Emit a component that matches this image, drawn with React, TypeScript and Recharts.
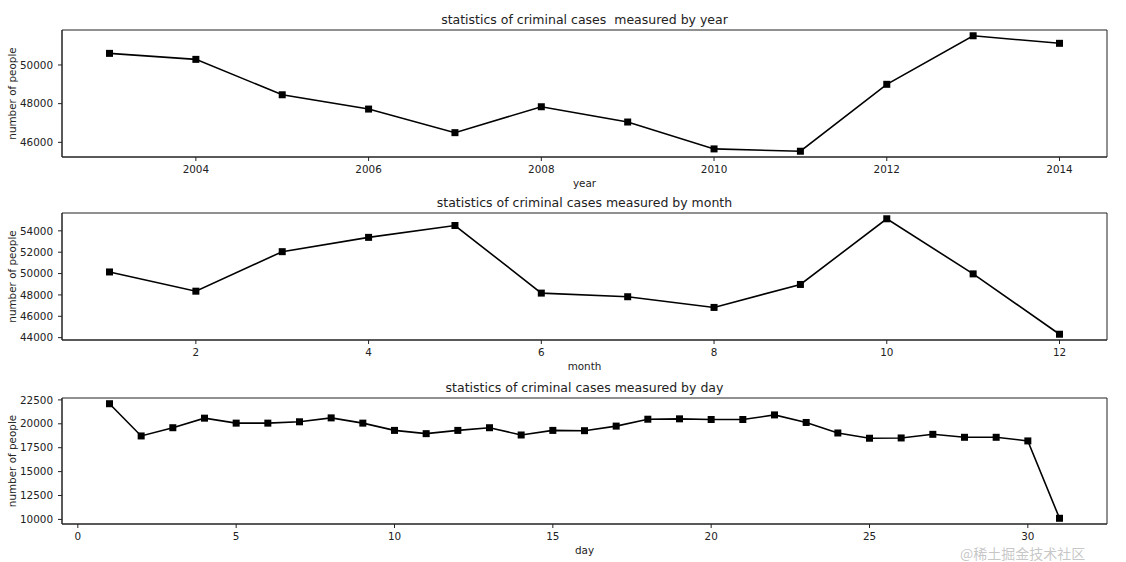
import React from 'react';
import { LineChart, Line, XAxis, YAxis, Label, ReferenceArea } from 'recharts';

// yearly totals
const years = [2003, 2004, 2005, 2006, 2007, 2008, 2009, 2010, 2011, 2012, 2013, 2014];
const yearCases = [50600, 50290, 48460, 47720, 46500, 47840, 47050, 45660, 45540, 49000, 51510, 51120];
const yearTicks = [2004, 2006, 2008, 2010, 2012, 2014];
const yearValueTicks = [46000, 48000, 50000];

// monthly totals
const months = [1, 2, 3, 4, 5, 6, 7, 8, 9, 10, 11, 12];
const monthCases = [50150, 48350, 52050, 53390, 54500, 48170, 47830, 46830, 48980, 55130, 49970, 44320];
const monthTicks = [2, 4, 6, 8, 10, 12];
const monthValueTicks = [44000, 46000, 48000, 50000, 52000, 54000];

// day-of-month totals
const days = [1, 2, 3, 4, 5, 6, 7, 8, 9, 10, 11, 12, 13, 14, 15, 16, 17, 18, 19, 20, 21, 22, 23, 24, 25, 26, 27, 28, 29, 30, 31];
const dayCases = [
  22100, 18730, 19590, 20590, 20070, 20070, 20210, 20620, 20070, 19310, 18970, 19310, 19590, 18830, 19310, 19280,
  19760, 20480, 20520, 20450, 20450, 20930, 20140, 19040, 18490, 18520, 18900, 18590, 18590, 18210, 10120,
];
const dayTicks = [0, 5, 10, 15, 20, 25, 30];
const dayValueTicks = [10000, 12500, 15000, 17500, 20000, 22500];

const TEXT = '#222';
const AXIS = '#222';
const FONT = '"DejaVu Sans", sans-serif';

// matplotlib-style 5% autoscale margin
function padded(values: number[]): [number, number] {
  const lo = Math.min(...values);
  const hi = Math.max(...values);
  const pad = (hi - lo) * 0.05;
  return [lo - pad, hi + pad];
}

interface PanelProps {
  title: string;
  xLabel: string;
  xs: number[];
  ys: number[];
  xTicks: number[];
  yTicks: number[];
  top: number;
  height: number;
  boxTop: number;
  boxBottom: number;
}

function Panel({ title, xLabel, xs, ys, xTicks, yTicks, top, height, boxTop, boxBottom }: PanelProps) {
  const data = xs.map((x, i) => ({ x, value: ys[i] }));
  const tickStyle = { fontSize: 10.4, fill: TEXT, fontFamily: FONT };
  const xDomain = padded(xs);
  const yDomain = padded(ys);
  const plotTop = boxTop - top;

  return (
    <div style={{ position: 'absolute', left: 0, top, width: 1126, height }}>
      <LineChart
        width={1126}
        height={height}
        data={data}
        margin={{ top: plotTop, right: 19, bottom: 0, left: 0 }}
      >
        <XAxis
          dataKey="x"
          type="number"
          domain={xDomain}
          allowDataOverflow
          ticks={xTicks}
          interval={0}
          height={top + height - boxBottom}
          stroke={AXIS}
          tickSize={4}
          tickMargin={5}
          tick={tickStyle}
        >
          <Label
            content={(props: any) => {
              const vb = props.viewBox;
              const cx = vb.x + vb.width / 2;
              return (
                <g>
                  <text x={cx} y={vb.y + 26} textAnchor="middle" dominantBaseline="central"
                    fontSize={10.4} fill={TEXT} fontFamily={FONT}>
                    {xLabel}
                  </text>
                  <text x={cx} y={plotTop - 11} textAnchor="middle" dominantBaseline="central"
                    fontSize={12.5} fill={TEXT} fontFamily={FONT} style={{ whiteSpace: 'pre' }}>
                    {title}
                  </text>
                </g>
              );
            }}
          />
        </XAxis>
        <YAxis
          type="number"
          domain={yDomain}
          allowDataOverflow
          ticks={yTicks}
          interval={0}
          width={62}
          stroke={AXIS}
          tickSize={4}
          tickMargin={5}
          tick={tickStyle}
        >
          <Label
            content={(props: any) => {
              const vb = props.viewBox;
              const cy = vb.y + vb.height / 2;
              return (
                <text x={12} y={cy} transform={`rotate(-90, 12, ${cy})`} textAnchor="middle"
                  dominantBaseline="central" fontSize={10.4} fill={TEXT} fontFamily={FONT}>
                  number of people
                </text>
              );
            }}
          />
        </YAxis>
        {/* full frame around the axes, like matplotlib spines */}
        <ReferenceArea
          x1={xDomain[0]}
          x2={xDomain[1]}
          y1={yDomain[0]}
          y2={yDomain[1]}
          fill="none"
          fillOpacity={0}
          stroke={AXIS}
          strokeWidth={1}
          ifOverflow="extendDomain"
        />
        <Line
          dataKey="value"
          stroke="#000"
          strokeWidth={1.6}
          isAnimationActive={false}
          activeDot={false}
          dot={(p: any) => (
            <rect key={`m-${p.index}`} x={p.cx - 3.5} y={p.cy - 3.5} width={7} height={7} fill="#000" />
          )}
        />
      </LineChart>
    </div>
  );
}

export default function App() {
  return (
    <div style={{ position: 'absolute', left: 0, top: 0, width: 1126, height: 562, background: '#fff', fontFamily: FONT }}>
      <Panel
        title="statistics of criminal cases  measured by year"
        xLabel="year"
        xs={years}
        ys={yearCases}
        xTicks={yearTicks}
        yTicks={yearValueTicks}
        top={0}
        height={190}
        boxTop={30}
        boxBottom={157}
      />
      <Panel
        title="statistics of criminal cases measured by month"
        xLabel="month"
        xs={months}
        ys={monthCases}
        xTicks={monthTicks}
        yTicks={monthValueTicks}
        top={190}
        height={183}
        boxTop={213}
        boxBottom={340}
      />
      <Panel
        title="statistics of criminal cases measured by day"
        xLabel="day"
        xs={days}
        ys={dayCases}
        xTicks={dayTicks}
        yTicks={dayValueTicks}
        top={373}
        height={189}
        boxTop={398}
        boxBottom={524}
      />
      <div
        style={{
          position: 'absolute',
          left: 960,
          top: 546,
          fontSize: 14,
          lineHeight: '15px',
          color: 'rgba(150,150,150,0.55)',
          fontFamily: '"Noto Sans CJK SC", sans-serif',
          whiteSpace: 'nowrap',
        }}
      >
        @稀土掘金技术社区
      </div>
    </div>
  );
}
